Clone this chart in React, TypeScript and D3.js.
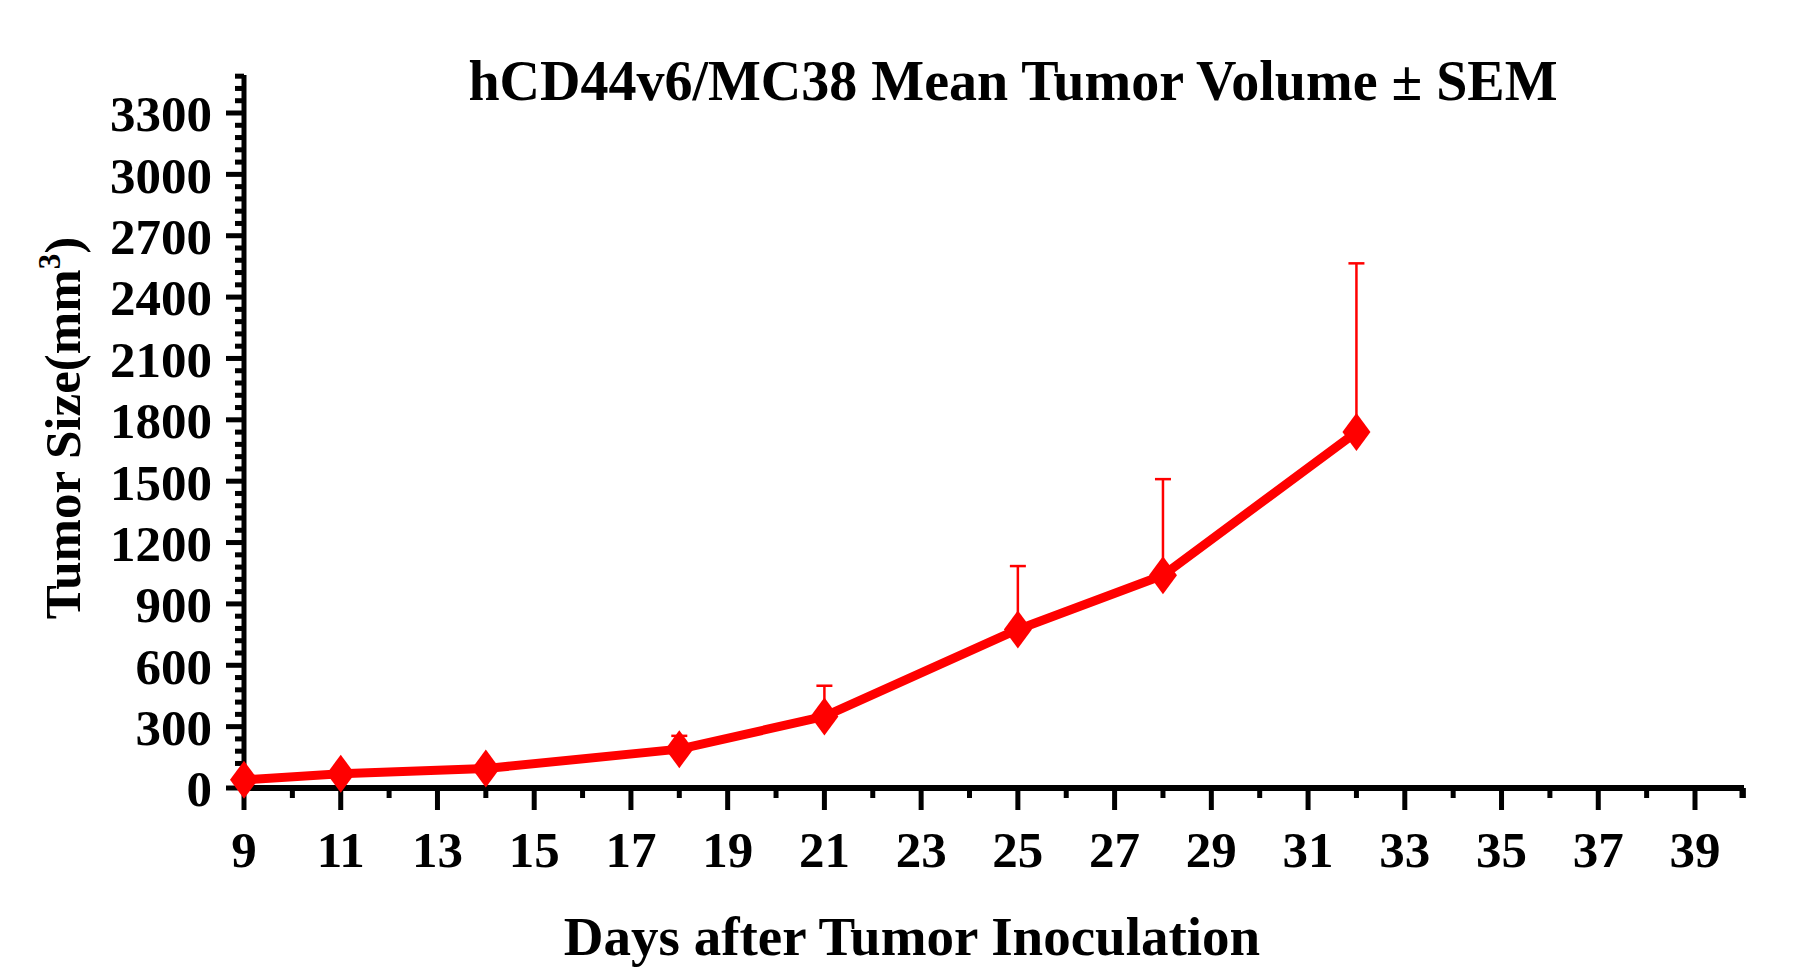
import React, { useEffect, useRef } from 'react';
import * as d3 from 'd3';

const days = [9, 11, 14, 18, 21, 25, 28, 32];
const means = [40, 70, 95, 190, 350, 775, 1040, 1740];
const upper = [40, 70, 95, 255, 500, 1085, 1510, 2565];
const xTicks = [9, 11, 13, 15, 17, 19, 21, 23, 25, 27, 29, 31, 33, 35, 37, 39];
const yTicks = [0, 300, 600, 900, 1200, 1500, 1800, 2100, 2400, 2700, 3000, 3300];

const App: React.FC = () => {
  const ref = useRef<SVGSVGElement>(null);

  useEffect(() => {
    if (!ref.current) return;
    const svg = d3.select(ref.current);
    svg.selectAll('*').remove();
    const font = '"Liberation Serif", "Times New Roman", serif';

    const x = d3.scaleLinear().domain([9, 39]).range([244, 1695]);
    const y = d3.scaleLinear().domain([0, 3300]).range([788, 113]);
    const xEnd = 1744;
    const yTop = 75;

    // y axis
    svg.append('line').attr('x1', 244).attr('x2', 244).attr('y1', yTop).attr('y2', 790)
      .attr('stroke', 'black').attr('stroke-width', 5);
    d3.range(0, 3481, 60).forEach((v) => {
      const major = v % 300 === 0;
      svg.append('line').attr('x1', 244).attr('x2', major ? 226 : 235)
        .attr('y1', y(v)).attr('y2', y(v)).attr('stroke', 'black').attr('stroke-width', 5);
    });
    yTicks.forEach((v) => {
      svg.append('text').attr('x', 212).attr('y', y(v)).attr('dy', '0.36em')
        .attr('text-anchor', 'end').attr('font-family', font).attr('font-weight', 'bold')
        .attr('font-size', 51).text(v);
    });

    // x axis
    svg.append('line').attr('x1', 242).attr('x2', xEnd).attr('y1', 788).attr('y2', 788)
      .attr('stroke', 'black').attr('stroke-width', 6);
    d3.range(9, 40.1, 1).forEach((d) => {
      const major = (d - 9) % 2 === 0;
      svg.append('line').attr('x1', x(d)).attr('x2', x(d)).attr('y1', 788)
        .attr('y2', major ? 810 : 798).attr('stroke', 'black').attr('stroke-width', 5);
    });
    svg.append('line').attr('x1', xEnd - 2).attr('x2', xEnd - 2).attr('y1', 788).attr('y2', 798)
      .attr('stroke', 'black').attr('stroke-width', 5);
    xTicks.forEach((d) => {
      svg.append('text').attr('x', x(d)).attr('y', 867).attr('text-anchor', 'middle')
        .attr('font-family', font).attr('font-weight', 'bold').attr('font-size', 51).text(d);
    });

    // error bars
    days.forEach((d, i) => {
      if (upper[i] <= means[i]) return;
      svg.append('line').attr('x1', x(d)).attr('x2', x(d)).attr('y1', y(means[i])).attr('y2', y(upper[i]))
        .attr('stroke', '#ff0000').attr('stroke-width', 2.5);
      svg.append('line').attr('x1', x(d) - 8).attr('x2', x(d) + 8).attr('y1', y(upper[i])).attr('y2', y(upper[i]))
        .attr('stroke', '#ff0000').attr('stroke-width', 2.5);
    });

    const line = d3.line<number>().x((_, i) => x(days[i])).y((v) => y(v));
    svg.append('path').datum(means).attr('d', line).attr('fill', 'none')
      .attr('stroke', '#ff0000').attr('stroke-width', 9).attr('stroke-linejoin', 'round');

    svg.selectAll('.pt').data(means).enter().append('path')
      .attr('d', 'M0,-19L14,0L0,19L-14,0Z')
      .attr('transform', (v, i) => `translate(${x(days[i])},${y(v)})`)
      .attr('fill', '#ff0000');

    svg.append('text').attr('x', 1013).attr('y', 100).attr('text-anchor', 'middle')
      .attr('font-family', font).attr('font-weight', 'bold').attr('font-size', 56)
      .text('hCD44v6/MC38 Mean Tumor Volume ± SEM');
    svg.append('text').attr('x', 912).attr('y', 955).attr('text-anchor', 'middle')
      .attr('font-family', font).attr('font-weight', 'bold').attr('font-size', 55)
      .text('Days after Tumor Inoculation');
    const yl = svg.append('text').attr('transform', 'translate(80,428) rotate(-90)')
      .attr('text-anchor', 'middle').attr('font-family', font).attr('font-weight', 'bold')
      .attr('font-size', 51);
    yl.append('tspan').text('Tumor Size(mm');
    yl.append('tspan').attr('font-size', 31).attr('dy', -20).text('3');
    yl.append('tspan').attr('dy', 20).text(')');
  }, []);

  return (
    <svg
      ref={ref}
      width={1802}
      height={978}
      style={{ display: 'block', position: 'absolute', left: 0, top: 0, background: 'white' }}
    />
  );
};

export default App;
